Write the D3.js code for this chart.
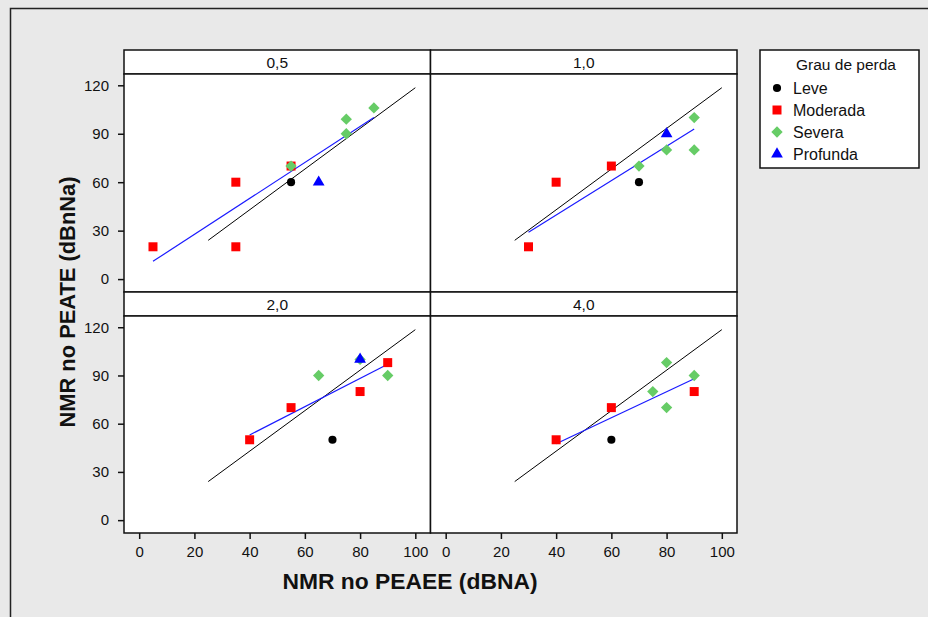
<!DOCTYPE html>
<html>
<head>
<meta charset="utf-8">
<script src="https://cdn.jsdelivr.net/npm/d3@7"></script>
<style>
  body { margin: 0; background: #e9e9e9; }
  svg { display: block; }
  text { font-family: "Liberation Sans", Arial, sans-serif; fill: #111; }
</style>
</head>
<body>
<script>
// facets (panel labels) and groups
const facets = ["0,5", "1,0", "2,0", "4,0"];
const groups = ["Leve", "Moderada", "Severa", "Profunda"];
const xTicks = [0, 20, 40, 60, 80, 100];
const yTicks = [0, 30, 60, 90, 120];

// points per group: facet, NMR PEAEE (x), NMR PEATE (y)
const leve = [
  { f: "0,5", x: 55, y: 60 },
  { f: "1,0", x: 70, y: 60 },
  { f: "2,0", x: 70, y: 50 },
  { f: "4,0", x: 60, y: 50 },
];
const moderada = [
  { f: "0,5", x: 5, y: 20 },
  { f: "0,5", x: 35, y: 60 },
  { f: "0,5", x: 35, y: 20 },
  { f: "0,5", x: 55, y: 70 },
  { f: "1,0", x: 30, y: 20 },
  { f: "1,0", x: 40, y: 60 },
  { f: "1,0", x: 60, y: 70 },
  { f: "2,0", x: 40, y: 50 },
  { f: "2,0", x: 55, y: 70 },
  { f: "2,0", x: 80, y: 80 },
  { f: "2,0", x: 90, y: 98 },
  { f: "4,0", x: 40, y: 50 },
  { f: "4,0", x: 60, y: 70 },
  { f: "4,0", x: 90, y: 80 },
];
const severa = [
  { f: "0,5", x: 55, y: 70 },
  { f: "0,5", x: 75, y: 99 },
  { f: "0,5", x: 75, y: 90 },
  { f: "0,5", x: 85, y: 106 },
  { f: "1,0", x: 70, y: 70 },
  { f: "1,0", x: 80, y: 80 },
  { f: "1,0", x: 90, y: 100 },
  { f: "1,0", x: 90, y: 80 },
  { f: "2,0", x: 65, y: 90 },
  { f: "2,0", x: 90, y: 90 },
  { f: "2,0", x: 80, y: 100 },
  { f: "4,0", x: 80, y: 98 },
  { f: "4,0", x: 75, y: 80 },
  { f: "4,0", x: 80, y: 70 },
  { f: "4,0", x: 90, y: 90 },
];
const profunda = [
  { f: "0,5", x: 65, y: 60 },
  { f: "1,0", x: 80, y: 90 },
  { f: "2,0", x: 80, y: 100 },
];

// blue fitted lines per facet (start / end)
const fitLines = [
  { f: "0,5", x1: 5, y1: 11, x2: 85, y2: 100 },
  { f: "1,0", x1: 30, y1: 29, x2: 90, y2: 93 },
  { f: "2,0", x1: 40, y1: 53, x2: 90, y2: 97 },
  { f: "4,0", x1: 40, y1: 47.5, x2: 90, y2: 88 },
];
// black reference line, same in every panel
const refLine = [
  { x: 25, y: 24 },
  { x: 100, y: 118.5 },
];

const width = 928, height = 617;
const svg = d3.select("body").append("svg").attr("width", width).attr("height", height);

// background + outer frame
svg.append("rect").attr("width", width).attr("height", height).attr("fill", "#e9e9e9");
svg.append("rect").attr("x", 10.5).attr("y", 8.5).attr("width", 940).attr("height", 640)
  .attr("fill", "#e9e9e9").attr("stroke", "#222").attr("stroke-width", 1.5);

// panel grid
const cols = [[124, 430.5], [430.5, 737]];
const rows = [[74, 292], [316, 533]];
const stripH = 24;

const symbols = {
  Leve: { type: d3.symbolCircle, size: 52, color: "#000000", rot: 0 },
  Moderada: { type: d3.symbolSquare, size: 81, color: "#ff0000", rot: 0 },
  Severa: { type: d3.symbolSquare, size: 64, color: "#66cc66", rot: 45 },
  Profunda: { type: d3.symbolTriangle, size: 60, color: "#0000ff", rot: 0 },
};
const groupData = { Leve: leve, Moderada: moderada, Severa: severa, Profunda: profunda };

facets.forEach((f, i) => {
  const c = cols[i % 2], r = rows[Math.floor(i / 2)];
  const x = d3.scaleLinear().domain([-5.5, 105.5]).range(c);
  const y = d3.scaleLinear().domain([-8, 127]).range([r[1], r[0]]);
  const g = svg.append("g");

  // strip
  g.append("rect").attr("x", c[0]).attr("y", r[0] - stripH)
    .attr("width", c[1] - c[0]).attr("height", stripH)
    .attr("fill", "#fff").attr("stroke", "#111").attr("stroke-width", 1.5);
  g.append("text").attr("x", (c[0] + c[1]) / 2).attr("y", r[0] - stripH / 2 + 5.5)
    .attr("text-anchor", "middle").attr("font-size", 15.5).text(f);

  // plot area
  g.append("rect").attr("x", c[0]).attr("y", r[0])
    .attr("width", c[1] - c[0]).attr("height", r[1] - r[0])
    .attr("fill", "#fff").attr("stroke", "#111").attr("stroke-width", 1.5);

  // y axis on the left column
  if (i % 2 === 0) {
    const ya = g.append("g").attr("transform", `translate(${c[0]},0)`)
      .call(d3.axisLeft(y).tickValues(yTicks).tickSize(6).tickPadding(9));
    ya.select(".domain").remove();
    ya.selectAll("line").attr("stroke", "#111").attr("stroke-width", 1.5);
    ya.selectAll("text").attr("font-size", 15).attr("font-family", "Liberation Sans").attr("fill", "#111");
  }
  // x axis on the bottom row
  if (i >= 2) {
    const xa = g.append("g").attr("transform", `translate(0,${r[1]})`)
      .call(d3.axisBottom(x).tickValues(xTicks).tickSize(6).tickPadding(7));
    xa.select(".domain").remove();
    xa.selectAll("line").attr("stroke", "#111").attr("stroke-width", 1.5);
    xa.selectAll("text").attr("font-size", 15).attr("font-family", "Liberation Sans").attr("fill", "#111");
  }

  const line = d3.line().x((d) => x(d.x)).y((d) => y(d.y));

  // reference line
  g.append("path").datum(refLine).attr("d", line)
    .attr("fill", "none").attr("stroke", "#000").attr("stroke-width", 1);

  // fitted line
  const fl = fitLines.find((d) => d.f === f);
  g.append("path").datum([{ x: fl.x1, y: fl.y1 }, { x: fl.x2, y: fl.y2 }]).attr("d", line)
    .attr("fill", "none").attr("stroke", "#1a1aff").attr("stroke-width", 1.2);

  // points
  groups.forEach((gr) => {
    const s = symbols[gr];
    g.selectAll(null)
      .data(groupData[gr].filter((d) => d.f === f))
      .join("path")
      .attr("d", d3.symbol().type(s.type).size(s.size))
      .attr("transform", (d) => `translate(${x(d.x)},${y(d.y)}) rotate(${s.rot})`)
      .attr("fill", s.color);
  });
});

// axis titles
svg.append("text")
  .attr("transform", "translate(75,302) rotate(-90)")
  .attr("text-anchor", "middle").attr("font-size", 22).attr("font-weight", "bold")
  .attr("textLength", 251).attr("lengthAdjust", "spacingAndGlyphs")
  .text("NMR no PEATE (dBnNa)");
svg.append("text")
  .attr("x", 410).attr("y", 589)
  .attr("text-anchor", "middle").attr("font-size", 22).attr("font-weight", "bold")
  .attr("textLength", 255).attr("lengthAdjust", "spacingAndGlyphs")
  .text("NMR no PEAEE (dBNA)");

// legend
const lg = svg.append("g");
lg.append("rect").attr("x", 760).attr("y", 50).attr("width", 159).attr("height", 118)
  .attr("fill", "#fff").attr("stroke", "#111").attr("stroke-width", 1.5);
lg.append("text").attr("x", 846).attr("y", 70).attr("text-anchor", "middle")
  .attr("font-size", 15.5).text("Grau de perda");
groups.forEach((gr, k) => {
  const s = symbols[gr];
  const cy = 88 + k * 22;
  lg.append("path").attr("d", d3.symbol().type(s.type).size(s.size))
    .attr("transform", `translate(777,${cy}) rotate(${s.rot})`).attr("fill", s.color);
  lg.append("text").attr("x", 793).attr("y", cy + 5.5).attr("font-size", 16).text(gr);
});
</script>
</body>
</html>
